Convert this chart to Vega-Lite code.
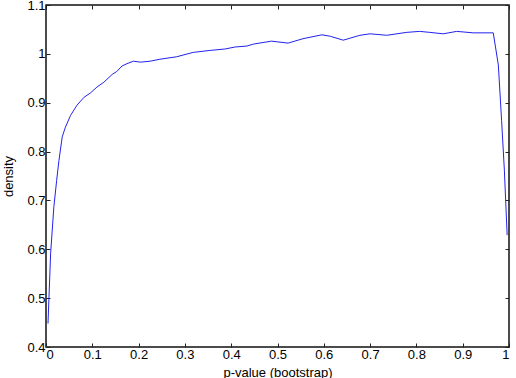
{
  "$schema": "https://vega.github.io/schema/vega-lite/v6.json",
  "autosize": "none",
  "width": 463,
  "height": 342,
  "padding": {"left": 46, "top": 5, "right": 7, "bottom": 31},
  "background": "white",
  "config": {
    "view": {"stroke": "#111111", "strokeWidth": 1.5},
    "font": "Liberation Sans",
    "axis": {
      "grid": false,
      "domain": false,
      "tickColor": "#222222",
      "tickSize": -4,
      "tickWidth": 1,
      "labelColor": "black",
      "labelFont": "Liberation Sans",
      "labelFontSize": 13,
      "titleFont": "Liberation Sans",
      "titleFontSize": 13,
      "titleFontWeight": "normal",
      "titleColor": "black"
    }
  },
  "data": {"values": [
    {"p": 0.0043, "d": 0.448},
    {"p": 0.010, "d": 0.592},
    {"p": 0.017, "d": 0.687},
    {"p": 0.023, "d": 0.741},
    {"p": 0.028, "d": 0.782},
    {"p": 0.035, "d": 0.830},
    {"p": 0.042, "d": 0.850},
    {"p": 0.053, "d": 0.874},
    {"p": 0.067, "d": 0.895},
    {"p": 0.082, "d": 0.911},
    {"p": 0.096, "d": 0.920},
    {"p": 0.110, "d": 0.932},
    {"p": 0.125, "d": 0.942},
    {"p": 0.143, "d": 0.958},
    {"p": 0.153, "d": 0.964},
    {"p": 0.164, "d": 0.975},
    {"p": 0.175, "d": 0.980},
    {"p": 0.189, "d": 0.985},
    {"p": 0.204, "d": 0.983},
    {"p": 0.225, "d": 0.985},
    {"p": 0.246, "d": 0.989},
    {"p": 0.282, "d": 0.994},
    {"p": 0.318, "d": 1.003},
    {"p": 0.354, "d": 1.007},
    {"p": 0.387, "d": 1.010},
    {"p": 0.408, "d": 1.014},
    {"p": 0.434, "d": 1.016},
    {"p": 0.448, "d": 1.020},
    {"p": 0.487, "d": 1.026},
    {"p": 0.523, "d": 1.022},
    {"p": 0.555, "d": 1.031},
    {"p": 0.596, "d": 1.039},
    {"p": 0.614, "d": 1.036},
    {"p": 0.642, "d": 1.028},
    {"p": 0.678, "d": 1.038},
    {"p": 0.700, "d": 1.041},
    {"p": 0.736, "d": 1.038},
    {"p": 0.779, "d": 1.044},
    {"p": 0.807, "d": 1.046},
    {"p": 0.829, "d": 1.044},
    {"p": 0.858, "d": 1.041},
    {"p": 0.887, "d": 1.046},
    {"p": 0.923, "d": 1.043},
    {"p": 0.966, "d": 1.043},
    {"p": 0.977, "d": 0.977},
    {"p": 0.984, "d": 0.864},
    {"p": 0.990, "d": 0.762},
    {"p": 0.996, "d": 0.629}
  ]},
  "resolve": {"axis": {"x": "independent", "y": "independent"}},
  "layer": [
    {
      "mark": {"type": "line", "color": "#2222ee", "strokeWidth": 1},
      "encoding": {
        "x": {"field": "p", "type": "quantitative", "scale": {"domain": [0, 1], "nice": false},
              "axis": {"title": "p-value (bootstrap)", "values": [0,0.1,0.2,0.3,0.4,0.5,0.6,0.7,0.8,0.9,1], "format": "~g", "labelPadding": 5, "titleBaseline": "alphabetic", "titleY": 29}},
        "y": {"field": "d", "type": "quantitative", "scale": {"domain": [0.4, 1.1], "nice": false, "zero": false},
              "axis": {"title": "density", "values": [0.4,0.5,0.6,0.7,0.8,0.9,1,1.1], "format": "~g", "labelPadding": 5, "titleBaseline": "middle", "titleX": -38}}
      }
    },
    {
      "mark": {"type": "line", "opacity": 0},
      "encoding": {
        "x": {"field": "p", "type": "quantitative", "axis": {"orient": "top", "labels": false, "title": null, "values": [0,0.1,0.2,0.3,0.4,0.5,0.6,0.7,0.8,0.9,1]}},
        "y": {"field": "d", "type": "quantitative", "axis": {"orient": "right", "labels": false, "title": null, "values": [0.4,0.5,0.6,0.7,0.8,0.9,1,1.1]}}
      }
    }
  ]
}
